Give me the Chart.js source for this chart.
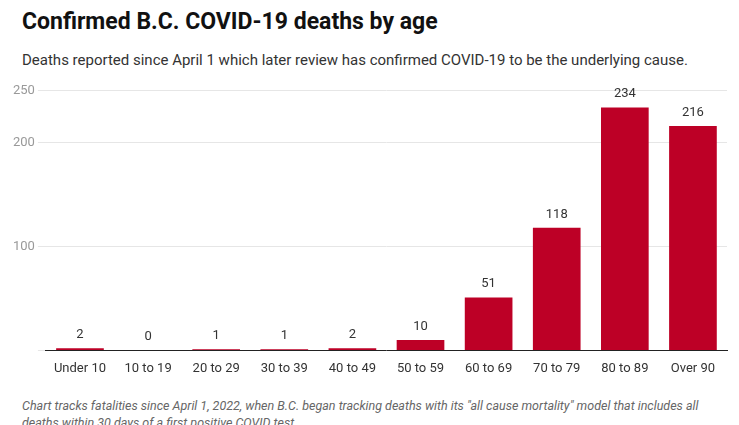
<!DOCTYPE html>
<html>
<head>
<meta charset="utf-8">
<script src="https://cdn.jsdelivr.net/npm/chart.js@4/dist/chart.umd.min.js"></script>
<style>
  body { margin: 0; width: 739px; height: 425px; overflow: hidden; background: #fff; font-family: Roboto, sans-serif; }
  h1 { position: absolute; left: 22px; top: 8px; margin: 0; font-size: 23px; font-weight: 700; color: #111; }
  .sub { position: absolute; left: 22px; top: 51px; margin: 0; font-size: 15px; color: #333; }
  .note { position: absolute; left: 22px; top: 397px; margin: 0; font-size: 12.5px; font-style: italic; color: #666; line-height: 17px; width: 700px; }
  #wrap { position: absolute; left: 0; top: 80px; width: 739px; height: 300px; }
</style>
</head>
<body>
<h1>Confirmed B.C. COVID-19 deaths by age</h1>
<p class="sub">Deaths reported since April 1 which later review has confirmed COVID-19 to be the underlying cause.</p>
<div id="wrap"><canvas id="chart"></canvas></div>
<p class="note">Chart tracks fatalities since April 1, 2022, when B.C. began tracking deaths with its "all cause mortality" model that includes all deaths within 30 days of a first positive COVID test.</p>
<script>
// 연령대와 사망자 수
const ageGroups = ["Under 10", "10 to 19", "20 to 29", "30 to 39", "40 to 49", "50 to 59", "60 to 69", "70 to 79", "80 to 89", "Over 90"];
const deaths = [2, 0, 1, 1, 2, 10, 51, 118, 234, 216];

// 막대 위에 값 표시
const valueLabels = {
  id: "valueLabels",
  afterDatasetsDraw(chart) {
    const ctx = chart.ctx;
    const meta = chart.getDatasetMeta(0);
    ctx.save();
    ctx.font = "13px Roboto";
    ctx.fillStyle = "#333";
    ctx.textAlign = "center";
    ctx.textBaseline = "bottom";
    meta.data.forEach(function (bar, i) {
      ctx.fillText(deaths[i], bar.x, bar.y - 7);
    });
    ctx.restore();
  }
};

new Chart(document.getElementById("chart"), {
  type: "bar",
  data: {
    labels: ageGroups,
    datasets: [{
      data: deaths,
      backgroundColor: "#bd0026",
      barPercentage: 0.7,
      categoryPercentage: 1
    }]
  },
  options: {
    responsive: true,
    maintainAspectRatio: false,
    animation: false,
    layout: { padding: { top: 6, right: 12, left: 10 } },
    plugins: { legend: { display: false }, tooltip: { enabled: false } },
    scales: {
      x: {
        grid: { display: false },
        border: { color: "#222" },
        ticks: { color: "#333", font: { size: 13, family: "Roboto" } }
      },
      y: {
        min: 0,
        max: 250,
        ticks: {
          stepSize: 100,
          color: "#999",
          font: { size: 13, family: "Roboto" },
          callback: function (v) { return v === 0 ? "" : v; }
        },
        grid: { color: "#e6e6e6" },
        border: { display: false }
      }
    }
  },
  plugins: [valueLabels]
});
</script>
</body>
</html>
